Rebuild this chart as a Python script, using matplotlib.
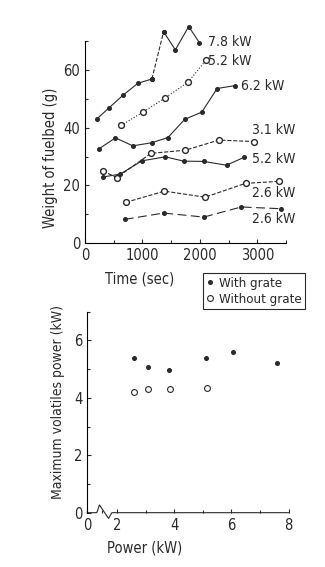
import numpy as np
import matplotlib
matplotlib.use('Agg')
from matplotlib import pyplot as plt
from matplotlib import font_manager

# Top panel: weight of fuelbed vs time
t_78 = [204, 425, 658, 920, 1165, 1369, 1573, 1806, 1992]
w_78 = [43.0, 47.0, 51.2, 55.4, 56.9, 73.3, 67.0, 75.1, 69.5]
t_52o = [629, 1008, 1392, 1794, 2109]
w_52o = [40.8, 45.4, 50.3, 55.8, 63.5]
t_62 = [239, 530, 833, 1165, 1445, 1736, 2033, 2301, 2610]
w_62 = [32.6, 36.5, 33.7, 34.8, 36.6, 42.9, 45.4, 53.6, 54.6]
t_31o = [309, 553, 1148, 1748, 2330, 2942]
w_31o = [25.0, 22.7, 31.1, 32.2, 35.7, 35.2]
t_52 = [309, 612, 990, 1398, 1718, 2068, 2464, 2767]
w_52 = [22.9, 23.9, 28.5, 29.9, 28.4, 28.3, 27.0, 29.7]
t_26o = [711, 1381, 2091, 2796, 3379]
w_26o = [14.1, 18.0, 15.9, 20.7, 21.4]
t_26 = [693, 1369, 2068, 2720, 3408]
w_26 = [8.2, 10.4, 9.0, 12.5, 11.9]

labels = ['7.8 kW', '5.2 kW', '6.2 kW', '3.1 kW', '5.2 kW', '2.6 kW', '2.6 kW']
label_x = [2150, 2140, 2720, 2910, 2900, 2910, 2910]
label_y = [69.8, 63.2, 54.5, 39.2, 29.0, 17.2, 8.3]

# Bottom panel: max volatiles power vs power
p_grate = [2.59, 3.08, 3.82, 5.11, 6.06, 7.6]
v_grate = [5.38, 5.06, 4.98, 5.38, 5.58, 5.21]
p_nogr = [2.59, 3.08, 3.84, 5.14]
v_nogr = [4.20, 4.31, 4.31, 4.33]

names = {f.name for f in font_manager.fontManager.ttflist}

ink = '#2a2a2a'
if 'Liberation Sans Narrow' in names:
    plt.rcParams['font.family'] = 'Liberation Sans Narrow'
else:
    plt.rcParams['font.family'] = 'DejaVu Sans'
    plt.rcParams['font.stretch'] = 'condensed'
plt.rcParams['font.size'] = 10
plt.rcParams['text.color'] = ink
plt.rcParams['axes.labelcolor'] = ink
plt.rcParams['xtick.color'] = ink
plt.rcParams['ytick.color'] = ink

fig = plt.figure(figsize=(3.25, 5.67), dpi=100)

ax = fig.add_axes([0.2615, 0.5714, 0.6185, 0.3864])
fill = dict(marker='o', ms=2.6, color=ink, lw=0.8, mfc=ink, mec=ink)
opn = dict(marker='o', ms=4.2, color=ink, lw=0.8, mfc='white', mec=ink)
ax.plot(t_78[:5], w_78[:5], '-', **fill)
ax.plot(t_78[4:6], w_78[4:6], '--', **fill)
ax.plot(t_78[5:], w_78[5:], '-', **fill, clip_on=False)
ax.plot(t_52o, w_52o, ':', **opn)
ax.plot(t_62, w_62, '-', **fill)
ax.plot(t_31o, w_31o, '--', **opn)
ax.plot(t_52, w_52, '-', **fill)
ax.plot(t_26o, w_26o, '--', **opn)
ax.plot(t_26, w_26, linestyle=(0, (8, 4)), **fill)
for s, x, y in zip(labels, label_x, label_y):
    ax.text(x, y, s, va='center', ha='left', fontsize=10)

ax.set_xlim(0, 3500)
ax.set_ylim(0, 76)
ax.spines['top'].set_visible(False)
ax.spines['right'].set_visible(False)
ax.spines['left'].set_bounds(0, 70)
ax.set_xticks([0, 1000, 2000, 3000])
ax.set_xticks([500, 1500, 2500, 3500], minor=True)
ax.set_yticks([0, 20, 40, 60])
ax.set_yticks([10, 30, 50, 70], minor=True)
ax.tick_params(direction='in', length=3, width=0.8, labelsize=10.5)
ax.tick_params(which='minor', direction='in', length=2, width=0.8)
ax.set_ylabel('Weight of fuelbed (g)', fontsize=10.5)
ax.yaxis.set_label_coords(-0.135, 0.39)
ax.set_xlabel('Time (sec)', fontsize=10.5)
ax.xaxis.set_label_coords(0.274, -0.13)

# bottom panel with broken x axis between 0 and 2
def fwd(x):
    x = np.asarray(x, dtype=float)
    return np.where(x < 2, 2 - (2 - x) * 0.518, x)

def inv(x):
    x = np.asarray(x, dtype=float)
    return np.where(x < 2, 2 - (2 - x) / 0.518, x)

bx = fig.add_axes([0.2686, 0.0958, 0.6197, 0.3545])
bx.set_xscale('function', functions=(fwd, inv))
bx.plot(p_grate, v_grate, 'o', ms=2.6, color=ink, label='With grate')
bx.plot(p_nogr, v_nogr, 'o', ms=4.2, mfc='white', mec=ink, mew=0.8, label='Without grate')
bx.plot([0, 0.64, 0.82, 1.43, 1.66, 8], [0, 0, 0.27, -0.2, 0, 0],
        color=ink, lw=0.8, clip_on=False)
bx.set_xlim(0, 8)
bx.set_ylim(0, 7)
for side in ['top', 'right', 'bottom']:
    bx.spines[side].set_visible(False)
bx.spines['left'].set_linewidth(0.8)
bx.set_xticks([0, 2, 4, 6, 8])
bx.set_xticks([1, 3, 5, 7], minor=True)
bx.set_yticks([0, 2, 4, 6])
bx.set_yticks([1, 3, 5, 7], minor=True)
bx.tick_params(direction='in', length=3, width=0.8, labelsize=10.5)
bx.tick_params(which='minor', direction='in', length=2, width=0.8)
bx.set_ylabel('Maximum volatiles power (kW)', fontsize=10)
bx.yaxis.set_label_coords(-0.11, 0.55)
bx.set_xlabel('Power (kW)', fontsize=10.5)
bx.xaxis.set_label_coords(0.286, -0.14)

leg = fig.legend(handles=bx.get_lines()[:2], loc='upper left',
                 bbox_to_anchor=(0.6236, 0.518), fontsize=9.5,
                 handlelength=0.6, handletextpad=0.4, borderpad=0.25,
                 labelspacing=0.25, fancybox=False, framealpha=1,
                 edgecolor=ink, borderaxespad=0)
leg.get_frame().set_linewidth(0.8)

fig.savefig('out.png', dpi=100)
